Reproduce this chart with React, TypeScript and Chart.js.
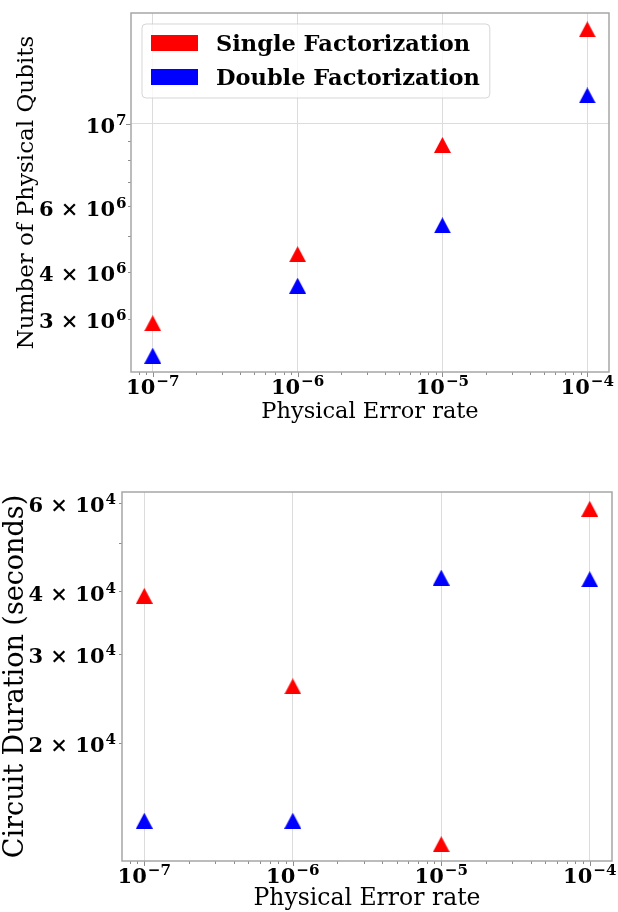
import React, { useEffect, useRef } from 'react';
import { Chart, registerables } from 'chart.js';

Chart.register(...registerables);

// ---------- data ----------
const errorRates = [1e-7, 1e-6, 1e-5, 1e-4];
const seriesLabels = ['Single Factorization', 'Double Factorization'];
const seriesColors = ['#ff0000', '#0000ff'];

const qubitsSingle = [2.92e6, 4.47e6, 8.77e6, 1.79e7];
const qubitsDouble = [2.39e6, 3.68e6, 5.34e6, 1.19e7];

const durationSingle = [3.92e4, 2.59e4, 1.257e4, 5.84e4];
const durationDouble = [1.40e4, 1.40e4, 4.26e4, 4.23e4];

const xTickLabels = [1e-7, 1e-6, 1e-5, 1e-4];
const qubitTickLabels = [3e6, 4e6, 6e6, 1e7];
const durationTickLabels = [2e4, 3e4, 4e4, 6e4];

const xTitle = 'Physical Error rate';
const yTitleTop = 'Number of Physical Qubits';
const yTitleBottom = 'Circuit Duration (seconds)';

// ---------- helpers ----------
function labelParts(v: number) {
  const k = Math.floor(Math.log10(v) + 1e-9);
  const m = Math.round(v / Math.pow(10, k));
  return {
    base: m === 1 ? '10' : `${m} × 10`,
    exp: String(k).replace('-', '−'),
  };
}

function logTicks(min: number, max: number) {
  const out: { value: number; major: boolean }[] = [];
  const k0 = Math.floor(Math.log10(min)) - 1;
  const k1 = Math.ceil(Math.log10(max)) + 1;
  for (let k = k0; k <= k1; k++) {
    for (let m = 1; m <= 9; m++) {
      const v = Number((m * Math.pow(10, k)).toPrecision(12));
      if (v >= min && v <= max) out.push({ value: v, major: m === 1 });
    }
  }
  return out;
}

function paddedRange(values: number[]) {
  const lo = Math.log10(Math.min(...values));
  const hi = Math.log10(Math.max(...values));
  const pad = 0.05 * (hi - lo);
  return { min: Math.pow(10, lo - pad), max: Math.pow(10, hi + pad) };
}

const isIn = (list: number[], v: number) => list.some((t) => Math.abs(t - v) / t < 1e-6);

function makeTriangle(color: string) {
  const w = 17, h = 16;
  const c = document.createElement('canvas');
  c.width = w;
  c.height = h;
  const g = c.getContext('2d')!;
  g.fillStyle = color;
  g.beginPath();
  g.moveTo(w / 2, 0);
  g.lineTo(w, h);
  g.lineTo(0, h);
  g.closePath();
  g.fill();
  return c;
}

const SERIF = "'DejaVu Serif', serif";

function drawMathLabel(
  ctx: CanvasRenderingContext2D,
  v: number,
  size: number,
  anchorX: number,
  baseY: number,
  align: 'center' | 'right'
) {
  const { base, exp } = labelParts(v);
  const supSize = size * 0.72;
  ctx.font = `bold ${size}px ${SERIF}`;
  const bw = ctx.measureText(base).width;
  ctx.font = `bold ${supSize}px ${SERIF}`;
  const ew = ctx.measureText(exp).width;
  const total = bw + 1 + ew;
  const x0 = align === 'center' ? anchorX - total / 2 : anchorX - total;
  ctx.fillStyle = '#000';
  ctx.textAlign = 'left';
  ctx.textBaseline = 'alphabetic';
  ctx.font = `bold ${size}px ${SERIF}`;
  ctx.fillText(base, x0, baseY);
  ctx.font = `bold ${supSize}px ${SERIF}`;
  ctx.fillText(exp, x0 + bw + 1, baseY - size * 0.38);
}

const decorPlugin = {
  id: 'mplDecor',
  afterDraw(chart: any, _args: any, opts: any) {
    const { ctx, chartArea: a } = chart;
    const xs = chart.scales.x;
    const ys = chart.scales.y;
    ctx.save();
    // tick marks
    ctx.strokeStyle = '#8c8c8c';
    ctx.lineWidth = 1;
    for (const t of xs.ticks) {
      const p = Math.round(xs.getPixelForValue(t.value)) + 0.5;
      const len = t.major ? 5 : 3;
      ctx.beginPath();
      ctx.moveTo(p, a.bottom);
      ctx.lineTo(p, a.bottom + len);
      ctx.stroke();
    }
    for (const t of ys.ticks) {
      const p = Math.round(ys.getPixelForValue(t.value)) + 0.5;
      const len = t.major ? 5 : 3;
      ctx.beginPath();
      ctx.moveTo(a.left, p);
      ctx.lineTo(a.left - len, p);
      ctx.stroke();
    }
    // frame (spines)
    ctx.strokeStyle = '#a6a6a6';
    ctx.lineWidth = 1.5;
    ctx.strokeRect(a.left, a.top, a.right - a.left, a.bottom - a.top);

    // tick labels (mathtext style)
    const F = opts.tickSize;
    for (const t of xs.ticks) {
      if (!isIn(opts.xLabels, t.value)) continue;
      drawMathLabel(ctx, t.value, F, xs.getPixelForValue(t.value), a.bottom + 22, 'center');
    }
    for (const t of ys.ticks) {
      if (!isIn(opts.yLabels, t.value)) continue;
      const py = ys.getPixelForValue(t.value);
      drawMathLabel(ctx, t.value, F, a.left - opts.yGap, py + 0.729 * F / 2 + 1.5, 'right');
    }

    // legend
    if (opts.legend) {
      const ds = chart.data.datasets;
      ctx.font = `bold 22.5px ${SERIF}`;
      const bx = a.left + 11;
      const by = a.top + 11;
      const textX = bx + 74;
      let maxW = 0;
      ds.forEach((d: any) => {
        maxW = Math.max(maxW, ctx.measureText(d.label).width);
      });
      const bw = textX - bx + maxW + 10;
      const bh = 74;
      const r = 4;
      ctx.beginPath();
      ctx.moveTo(bx + r, by);
      ctx.lineTo(bx + bw - r, by);
      ctx.quadraticCurveTo(bx + bw, by, bx + bw, by + r);
      ctx.lineTo(bx + bw, by + bh - r);
      ctx.quadraticCurveTo(bx + bw, by + bh, bx + bw - r, by + bh);
      ctx.lineTo(bx + r, by + bh);
      ctx.quadraticCurveTo(bx, by + bh, bx, by + bh - r);
      ctx.lineTo(bx, by + r);
      ctx.quadraticCurveTo(bx, by, bx + r, by);
      ctx.closePath();
      ctx.fillStyle = 'rgba(255,255,255,0.8)';
      ctx.fill();
      ctx.strokeStyle = 'rgba(204,204,204,0.8)';
      ctx.lineWidth = 1;
      ctx.stroke();
      ds.forEach((d: any, i: number) => {
        const cy = by + 19 + i * 34;
        ctx.fillStyle = d.backgroundColor;
        ctx.fillRect(bx + 9, cy - 8, 47, 16);
        ctx.fillStyle = '#000';
        ctx.textAlign = 'left';
        ctx.textBaseline = 'alphabetic';
        ctx.fillText(d.label, textX, cy + 8);
      });
    }
    ctx.restore();
  },
};

interface Geo {
  height: number;
  padTop: number;
  padRight: number;
  yWidth: number;
  xHeight: number;
  yTitleSize: number;
  yTitlePad: number;
  xTitleSize: number;
  xTitlePad: number;
  tickSize: number;
  yGap: number;
}

function buildConfig(
  single: number[],
  double: number[],
  yLabelTicks: number[],
  yTitle: string,
  geo: Geo,
  legend: boolean
): any {
  const xr = paddedRange(errorRates);
  const yr = paddedRange([...single, ...double]);
  const mk = (vals: number[]) => errorRates.map((x, i) => ({ x, y: vals[i] }));
  const gridColor = (c: any) => (c.tick && c.tick.major ? '#dcdcdc' : 'rgba(0,0,0,0)');
  return {
    type: 'scatter',
    data: {
      datasets: [
        {
          label: seriesLabels[0],
          data: mk(single),
          backgroundColor: seriesColors[0],
          borderColor: seriesColors[0],
          pointStyle: makeTriangle(seriesColors[0]),
          pointRadius: 8,
        },
        {
          label: seriesLabels[1],
          data: mk(double),
          backgroundColor: seriesColors[1],
          borderColor: seriesColors[1],
          pointStyle: makeTriangle(seriesColors[1]),
          pointRadius: 8,
        },
      ],
    },
    options: {
      animation: false,
      responsive: false,
      maintainAspectRatio: false,
      events: [],
      layout: {
        autoPadding: false,
        padding: { left: 0, top: geo.padTop, right: geo.padRight, bottom: 0 },
      },
      plugins: {
        legend: { display: false },
        tooltip: { enabled: false },
        mplDecor: {
          legend,
          xLabels: xTickLabels,
          yLabels: yLabelTicks,
          tickSize: geo.tickSize,
          yGap: geo.yGap,
        },
      },
      scales: {
        x: {
          type: 'logarithmic',
          position: 'bottom',
          bounds: 'data',
          min: xr.min,
          max: xr.max,
          afterBuildTicks: (s: any) => {
            s.ticks = logTicks(s.min, s.max);
          },
          afterFit: (s: any) => {
            s.height = geo.xHeight;
            s.paddingLeft = 0;
            s.paddingRight = 0;
            s.paddingTop = 0;
            s.paddingBottom = 0;
          },
          grid: { color: gridColor, drawTicks: false, lineWidth: 1 },
          border: { display: false },
          ticks: { display: false, autoSkip: false },
          title: {
            display: true,
            text: xTitle,
            color: '#000',
            font: { family: SERIF, size: geo.xTitleSize, weight: 'normal', lineHeight: 1 },
            padding: { top: 0, bottom: geo.xTitlePad },
          },
        },
        y: {
          type: 'logarithmic',
          position: 'left',
          bounds: 'data',
          min: yr.min,
          max: yr.max,
          afterBuildTicks: (s: any) => {
            s.ticks = logTicks(s.min, s.max);
          },
          afterFit: (s: any) => {
            s.width = geo.yWidth;
            s.paddingLeft = 0;
            s.paddingRight = 0;
            s.paddingTop = 0;
            s.paddingBottom = 0;
          },
          grid: { color: gridColor, drawTicks: false, lineWidth: 1 },
          border: { display: false },
          ticks: { display: false, autoSkip: false },
          title: {
            display: true,
            text: yTitle,
            color: '#000',
            font: { family: SERIF, size: geo.yTitleSize, weight: 'normal', lineHeight: 1 },
            padding: { top: geo.yTitlePad, bottom: 0 },
          },
        },
      },
    },
    plugins: [decorPlugin],
  };
}

function ChartBox(props: { top: number; height: number; make: () => any }) {
  const ref = useRef<HTMLCanvasElement>(null);
  useEffect(() => {
    const chart = new Chart(ref.current as HTMLCanvasElement, props.make());
    return () => chart.destroy();
  }, []);
  return (
    <canvas
      ref={ref}
      width={618}
      height={props.height}
      style={{ position: 'absolute', left: 0, top: props.top, width: 618, height: props.height }}
    />
  );
}

export default function App() {
  const topGeo: Geo = {
    height: 440,
    padTop: 13,
    padRight: 9,
    yWidth: 131,
    xHeight: 68,
    yTitleSize: 23,
    yTitlePad: 15.5,
    xTitleSize: 22.5,
    xTitlePad: 16.5,
    tickSize: 21,
    yGap: 4.5,
  };
  const botGeo: Geo = {
    height: 472,
    padTop: 52,
    padRight: 6,
    yWidth: 122,
    xHeight: 51,
    yTitleSize: 27,
    yTitlePad: 2,
    xTitleSize: 23.5,
    xTitlePad: 1,
    tickSize: 21,
    yGap: 6,
  };
  return (
    <div
      style={{
        position: 'absolute',
        left: 0,
        top: 0,
        width: 618,
        height: 912,
        overflow: 'hidden',
        background: '#fff',
      }}
    >
      <ChartBox
        top={0}
        height={topGeo.height}
        make={() => buildConfig(qubitsSingle, qubitsDouble, qubitTickLabels, yTitleTop, topGeo, true)}
      />
      <ChartBox
        top={440}
        height={botGeo.height}
        make={() => buildConfig(durationSingle, durationDouble, durationTickLabels, yTitleBottom, botGeo, false)}
      />
    </div>
  );
}
